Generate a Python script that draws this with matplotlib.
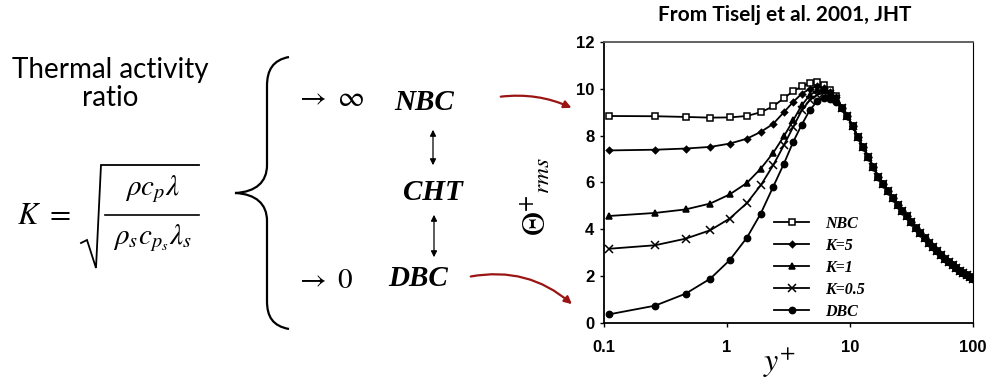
import matplotlib
matplotlib.use("Agg")
import matplotlib.pyplot as plt
from matplotlib.path import Path
from matplotlib.patches import PathPatch, FancyArrowPatch
from matplotlib.lines import Line2D

plt.rcParams["mathtext.fontset"] = "stix"

W, H = 987, 385

# y+ positions of the near-wall points (common to all cases)
yplus_wall = [0.11, 0.26, 0.46, 0.73, 1.05, 1.45, 1.88, 2.37, 2.9, 3.45,
              4.05, 4.7, 5.4, 6.1, 6.9, 7.7]
theta_nbc = [8.84, 8.83, 8.80, 8.77, 8.78, 8.84, 9.0, 9.25, 9.6, 9.9,
             10.1, 10.25, 10.28, 10.15, 9.95, 9.7]
theta_k5 = [7.37, 7.40, 7.45, 7.52, 7.66, 7.87, 8.16, 8.5, 9.0, 9.44,
            9.79, 10.0, 10.1, 10.05, 9.86, 9.65]
theta_k1 = [4.57, 4.70, 4.85, 5.10, 5.49, 5.98, 6.59, 7.26, 7.97, 8.65,
            9.3, 9.72, 9.94, 9.94, 9.8, 9.58]
theta_k05 = [3.17, 3.32, 3.60, 3.96, 4.46, 5.12, 5.88, 6.73, 7.59, 8.37,
             9.08, 9.51, 9.75, 9.82, 9.77, 9.58]
theta_dbc = [0.37, 0.74, 1.25, 1.89, 2.68, 3.64, 4.67, 5.81, 6.80, 7.73,
             8.47, 9.08, 9.47, 9.61, 9.58, 9.44]

# outer region: all cases collapse onto one profile
yplus_outer = [8.6, 9.5, 10.5, 11.6, 12.8, 14.1, 15.5, 17, 18.6, 20.4,
               22.3, 24.4, 26.6, 29, 31.6, 34.4, 37.4, 40.6, 44, 47.6,
               51.4, 55.4, 59.6, 64, 68.6, 73.4, 78.4, 83.6, 89, 94.6, 100]
theta_outer = [9.2, 8.85, 8.4, 7.95, 7.5, 7.1, 6.65, 6.25, 5.95, 5.62,
               5.33, 5.05, 4.8, 4.55, 4.3, 4.07, 3.85, 3.63, 3.42, 3.23,
               3.06, 2.9, 2.75, 2.61, 2.48, 2.36, 2.24, 2.13, 2.03, 1.95, 1.88]

labels = ["NBC", "K=5", "K=1", "K=0.5", "DBC"]
cases = [theta_nbc, theta_k5, theta_k1, theta_k05, theta_dbc]
markers = ["s", "D", "^", "x", "o"]
msizes = [4.5, 3.2, 5.0, 5.5, 4.5]
faces = ["white", "black", "black", "black", "black"]

xticks = [0.1, 1, 10, 100]
xticklabels = ["0.1", "1", "10", "100"]
yticks = [0, 2, 4, 6, 8, 10, 12]


def fp(x, y):
    """pixel position (y measured from the top) -> figure fraction"""
    return (x / W, 1 - y / H)


fig = plt.figure(figsize=(W / 100, H / 100), dpi=100)
fig.patch.set_facecolor("white")

ax = fig.add_axes([604 / W, 1 - 323 / H, 369 / W, 281 / H])
for lab, th, mk, ms, fc in zip(labels, cases, markers, msizes, faces):
    ax.plot(yplus_wall + yplus_outer, th + theta_outer, color="black", lw=1.3,
            marker=mk, ms=ms, mfc=fc, mec="black", mew=1.1, label=lab)

ax.set_xscale("log")
ax.set_xlim(0.1, 100)
ax.set_ylim(0, 12)
ax.set_xticks(xticks)
ax.set_xticklabels(xticklabels)
ax.xaxis.set_minor_locator(matplotlib.ticker.NullLocator())
ax.set_yticks(yticks)
ax.tick_params(direction="out", length=3, width=1, pad=4)
ax.tick_params(axis="x", pad=9)
for t in ax.get_xticklabels() + ax.get_yticklabels():
    t.set_fontfamily("Liberation Sans")
    t.set_fontweight("bold")
    t.set_fontsize(12)
for s in ax.spines.values():
    s.set_linewidth(1.3)
ax.spines["top"].set_color("#555555")
ax.spines["right"].set_linewidth(0.8)

ax.set_ylabel(r"$\mathit{\Theta}^{+}{}_{rms}$", fontsize=24, rotation=90)
ax.yaxis.set_label_coords(-0.14, 0.45)
ax.set_xlabel(r"$y^{+}$", fontsize=23)
ax.xaxis.set_label_coords(0.477, -0.08)

leg = ax.legend(loc="upper left", bbox_to_anchor=(0.44, 0.41), frameon=False,
                prop={"family": "Liberation Serif", "weight": "bold",
                      "style": "italic", "size": 11.5},
                handlelength=2.2, handletextpad=1.0, labelspacing=0.38,
                borderpad=0)

fig.text(*fp(785, 15), "From Tiselj et al. 2001, JHT", ha="center",
         va="center", fontsize=15, fontweight="bold", family="Lato")

# left-hand side: definition of K
fig.text(*fp(110, 84), "Thermal activity\nratio", ha="center", va="center",
         fontsize=20, family="Lato", linespacing=1.05, color="black")
fig.text(*fp(17, 216), r"$K\ =$", ha="left", va="center", fontsize=22)
fig.text(*fp(152, 189), r"$\rho c_p\lambda$", ha="center", va="center",
         fontsize=21)
fig.text(*fp(152, 238), r"$\rho_s c_{p_s}\lambda_s$", ha="center",
         va="center", fontsize=21)
# fraction bar and radical sign
fig.add_artist(Line2D([105 / W, 199 / W], [1 - 215 / H, 1 - 215 / H],
                      lw=1.2, color="black"))
rad_x = [81, 87, 96, 101, 199]
rad_y = [243, 240, 268, 165, 165]
fig.add_artist(Line2D([x / W for x in rad_x], [1 - y / H for y in rad_y],
                      lw=1.3, color="black", solid_joinstyle="miter"))

# curly brace
verts = [fp(289, 57), fp(273, 60), fp(267, 70), fp(267, 86),
         fp(267, 165), fp(267, 182), fp(256, 192), fp(235, 193),
         fp(256, 194), fp(267, 204), fp(267, 221),
         fp(267, 301), fp(267, 317), fp(273, 326), fp(289, 329)]
codes = [Path.MOVETO, Path.CURVE4, Path.CURVE4, Path.CURVE4,
         Path.LINETO, Path.CURVE4, Path.CURVE4, Path.CURVE4,
         Path.CURVE4, Path.CURVE4, Path.CURVE4,
         Path.LINETO, Path.CURVE4, Path.CURVE4, Path.CURVE4]
fig.add_artist(PathPatch(Path(verts, codes), fill=False, lw=1.6,
                         color="black", transform=fig.transFigure))

fig.text(*fp(295, 98), r"$\rightarrow\ \infty$", ha="left", va="center",
         fontsize=21)
fig.text(*fp(295, 280), r"$\rightarrow\ 0$", ha="left", va="center",
         fontsize=21)

bc_font = dict(family="Liberation Serif", weight="bold", style="italic",
               fontsize=21, ha="center", va="center")
fig.text(*fp(424, 102), "NBC", **bc_font)
fig.text(*fp(433, 193), "CHT", **bc_font)
fig.text(*fp(418, 278), "DBC", **bc_font)

for y0, y1, x in [(127, 168, 433), (212, 260, 434)]:
    fig.add_artist(FancyArrowPatch(fp(x, y0), fp(x, y1), arrowstyle="<|-|>",
                                   mutation_scale=9, lw=0.9, color="black",
                                   transform=fig.transFigure))

# red arrows pointing at the limiting curves
red = "#9b1414"
fig.add_artist(FancyArrowPatch(fp(498, 97), fp(574, 109),
                               connectionstyle="arc3,rad=-0.15",
                               arrowstyle="-|>", mutation_scale=11, lw=1.6,
                               color=red, transform=fig.transFigure))
fig.add_artist(FancyArrowPatch(fp(468, 277), fp(574, 306),
                               connectionstyle="arc3,rad=-0.25",
                               arrowstyle="-|>", mutation_scale=11, lw=1.6,
                               color=red, transform=fig.transFigure))

fig.savefig("out.png", dpi=100)
